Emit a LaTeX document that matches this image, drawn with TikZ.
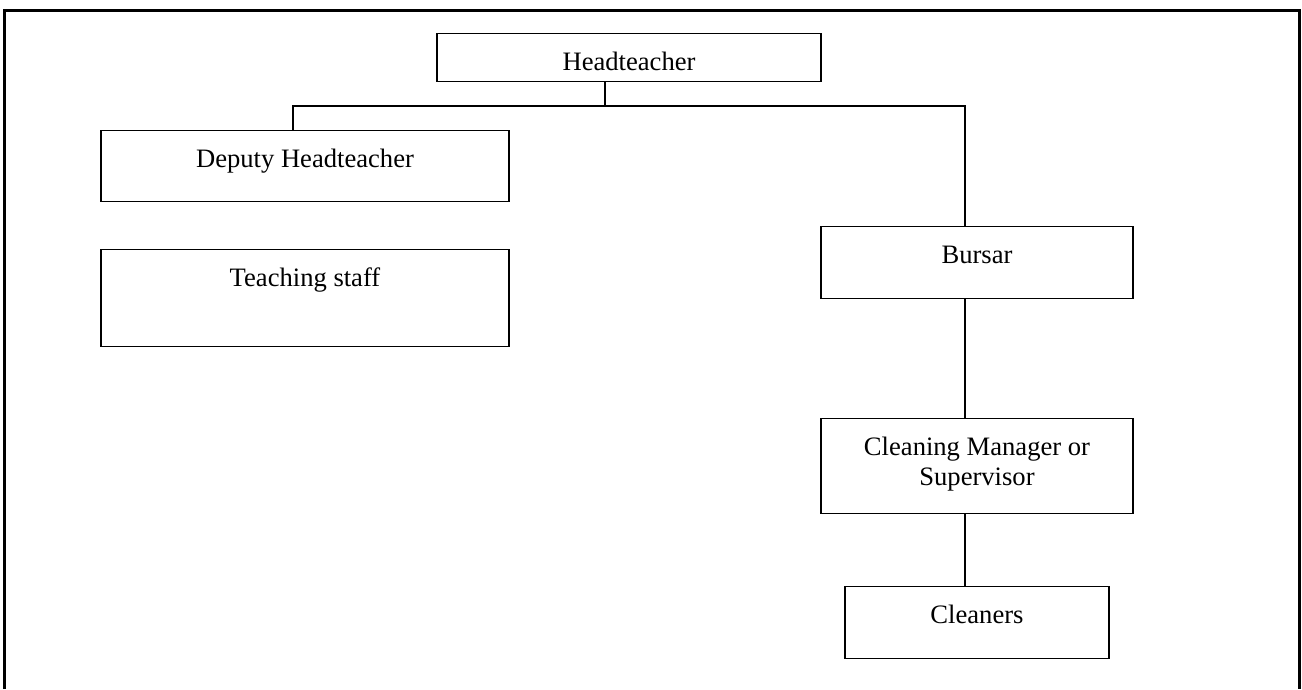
\documentclass[tikz,border=0pt]{standalone}
\usepackage{fontspec}
\setmainfont{Liberation Serif}
\tikzset{post/.style={draw,line width=1.2pt,inner sep=0pt,anchor=north,text height=36.5pt,font=\fontsize{26.6}{30}\selectfont}}

\begin{document}
\begin{tikzpicture}[
            x=1pt,y=-1pt,
            link/.style={draw,line width=1.2pt}
            ]
            \useasboundingbox (0,0) rectangle (1302,689);
            \draw[line width=3pt] (4.5,689) -- (4.5,10) -- (1299.5,10) -- (1299.5,689);
            \node[post,minimum width=384pt,text depth=11.5pt] (head) at (629,33) {Headteacher};
            \node[post,minimum width=408pt,text depth=34.5pt] (deputy) at (305,130) {Deputy Headteacher};
            \node[post,minimum width=408pt,text depth=60.5pt] (teaching) at (305,249) {Teaching staff};
            \node[post,minimum width=312pt,text depth=35.5pt] (bursar) at (977,226) {Bursar};
            \node[post,minimum width=312pt,text depth=58.5pt] (cleaning) at (977,418)
                {\begin{tabular}[t]{@{}c@{}}Cleaning Manager or\\Supervisor\end{tabular}};
            \node[post,minimum width=264pt,text depth=35.5pt] (cleaners) at (977,586) {Cleaners};
            \coordinate (hub) at (605,106);
            \coordinate (left) at (293,106);
            \coordinate (right) at (965,106);
            \draw[link] (head.south -| hub) -- (hub);
            \draw[link] (deputy.north -| left) -- (left) -- (right) -- (bursar.north -| right);
            \draw[link] (bursar.south -| right) -- (cleaning.north -| right);
            \draw[link] (cleaning.south -| right) -- (cleaners.north -| right);
        \end{tikzpicture}
\end{document}
